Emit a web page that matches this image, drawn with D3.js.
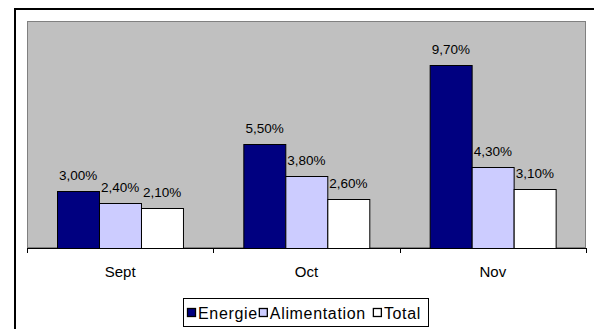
<!DOCTYPE html>
<html>
<head>
<meta charset="utf-8">
<script src="https://cdn.jsdelivr.net/npm/d3@7"></script>
<style>
  html, body { margin: 0; padding: 0; background: #fff; }
  svg { display: block; font-family: "Liberation Sans", Arial, sans-serif; }
</style>
</head>
<body>
<svg id="chart" width="594" height="329"></svg>
<script>
// Monthly inflation rates by component
const months = ["Sept", "Oct", "Nov"];
const seriesNames = ["Energie", "Alimentation", "Total"];
const energie = [3.0, 5.5, 9.7];
const alimentation = [2.4, 3.8, 4.3];
const total = [2.1, 2.6, 3.1];
const seriesColors = ["#000080", "#CCCCFF", "#FFFFFF"];

const seriesValues = [energie, alimentation, total];
const rows = months.map((m, i) => ({
  month: m,
  values: seriesNames.map((s, j) => ({ series: s, value: seriesValues[j][i], color: seriesColors[j] }))
}));

const svg = d3.select("#chart");
const W = 594, H = 329;

svg.append("rect").attr("width", W).attr("height", H).attr("fill", "#fff");

// Outer frame (top and left edges)
svg.append("line").attr("x1", 15).attr("x2", W).attr("y1", 9).attr("y2", 9)
  .attr("stroke", "#000").attr("stroke-width", 2);
svg.append("line").attr("x1", 15).attr("x2", 15).attr("y1", 8).attr("y2", H)
  .attr("stroke", "#000").attr("stroke-width", 2);

const plot = { left: 27, right: 586, top: 21, bottom: 248 };

const x0 = d3.scaleBand().domain(months).range([plot.left, plot.right]).padding(0);
const x1 = d3.scaleBand().domain(seriesNames).range([0, x0.bandwidth()])
  .paddingInner(0).paddingOuter(0.72);
const y = d3.scaleLinear().domain([0, 12]).range([plot.bottom, plot.top]);

// Plot area
svg.append("rect")
  .attr("x", plot.left + 0.5).attr("y", plot.top + 0.5)
  .attr("width", plot.right - plot.left - 1).attr("height", plot.bottom - plot.top - 1)
  .attr("fill", "#C0C0C0").attr("stroke", "#808080").attr("stroke-width", 1);

// Bars
const groups = svg.append("g").selectAll("g").data(rows).join("g")
  .attr("transform", d => `translate(${x0(d.month)},0)`);

groups.selectAll("rect").data(d => d.values).join("rect")
  .attr("x", d => Math.round(x1(d.series)) + 0.5)
  .attr("y", d => Math.round(y(d.value)) + 0.5)
  .attr("width", x1.bandwidth())
  .attr("height", d => plot.bottom - Math.round(y(d.value)))
  .attr("fill", d => d.color)
  .attr("stroke", "#000").attr("stroke-width", 1);

// Value labels
const fmt = v => v.toFixed(2).replace(".", ",") + "%";
groups.selectAll("text").data(d => d.values).join("text")
  .attr("x", d => x1(d.series) + x1.bandwidth() / 2)
  .attr("y", d => y(d.value) - 11)
  .attr("text-anchor", "middle")
  .attr("font-size", 13.5)
  .attr("fill", "#000")
  .text(d => fmt(d.value));

// Category axis
const axis = svg.append("g").attr("transform", `translate(0,${plot.bottom})`);
axis.append("line").attr("x1", plot.left).attr("x2", plot.right).attr("y1", 0.5).attr("y2", 0.5)
  .attr("stroke", "#000").attr("stroke-width", 1);
const tickPos = months.map(m => x0(m)).concat([x0(months[months.length - 1]) + x0.bandwidth()]);
axis.selectAll("line.tick").data(tickPos).join("line").attr("class", "tick")
  .attr("x1", d => Math.round(d) + 0.5).attr("x2", d => Math.round(d) + 0.5)
  .attr("y1", 0).attr("y2", 5)
  .attr("stroke", "#000").attr("stroke-width", 1);
axis.selectAll("text").data(months).join("text")
  .attr("x", d => x0(d) + x0.bandwidth() / 2)
  .attr("y", 29)
  .attr("text-anchor", "middle")
  .attr("font-size", 15)
  .text(d => d);

// Legend: swatches sit tight against their labels; labels are spread to fill the box
const legend = svg.append("g");
legend.append("rect").attr("x", 183.5).attr("y", 298.5).attr("width", 245).attr("height", 28)
  .attr("fill", "#fff").attr("stroke", "#000").attr("stroke-width", 1);
const legendFont = 16;
const legendStart = 187, legendEnd = 421;
const swatchStep = 11;              // swatch + gap before its label
const afterGaps = [1, 7, 0];         // space after each label
const labels = seriesNames.map(s => legend.append("text")
  .attr("y", 318.5).attr("font-size", legendFont).text(s));
const baseWidth = d3.sum(labels, t => t.node().getComputedTextLength());
const chars = d3.sum(seriesNames, s => s.length);
const spacing = (legendEnd - legendStart - 3 * swatchStep - d3.sum(afterGaps) - baseWidth) / chars;
let lx = legendStart;
seriesNames.forEach((s, i) => {
  legend.append("rect").attr("x", lx + 0.5).attr("y", 308.5).attr("width", 8).attr("height", 8)
    .attr("fill", seriesColors[i]).attr("stroke", "#000").attr("stroke-width", 1.3);
  labels[i].attr("x", lx + swatchStep).attr("letter-spacing", spacing);
  lx += swatchStep + labels[i].node().getComputedTextLength() + afterGaps[i];
});
</script>
</body>
</html>
